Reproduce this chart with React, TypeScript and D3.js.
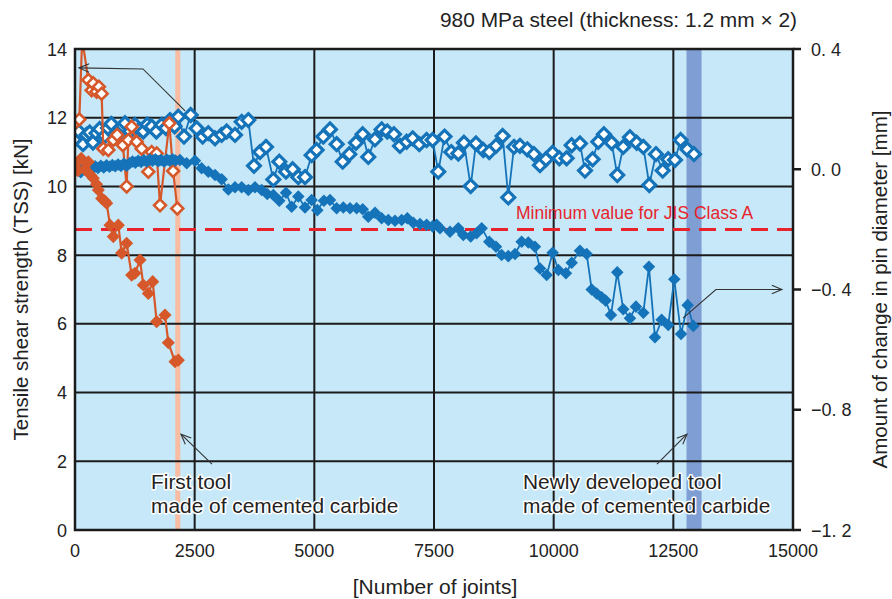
import React, { useEffect, useRef } from 'react';
import * as d3 from 'd3';

// TSS of new tool [joints, kN] (open blue diamonds, left axis)
const tssNewTool: [number, number][] = [
  [0, 11.38], [80, 11.6], [167, 11.23], [240, 11.5], [307, 11.57], [376, 11.28], [450, 11.55], [516, 11.67],
  [580, 11.4], [620, 11.47], [690, 11.7], [758, 11.82], [840, 11.5], [934, 11.57], [1000, 11.75], [1044, 11.84],
  [1150, 11.6], [1253, 11.79], [1340, 11.65], [1427, 11.6], [1510, 11.8], [1602, 11.74], [1700, 11.6], [1811, 11.79],
  [1900, 11.7], [1985, 11.93], [2080, 11.75], [2158, 12.03], [2277, 11.45], [2417, 12.08], [2542, 11.69], [2667, 11.45],
  [2785, 11.55], [2925, 11.4], [3064, 11.5], [3169, 11.6], [3343, 11.5], [3482, 11.88], [3621, 11.93], [3739, 10.6],
  [3864, 11.0], [3990, 11.15], [4143, 10.2], [4268, 10.72], [4408, 10.43], [4547, 10.5], [4665, 10.27], [4805, 10.27],
  [4944, 10.91], [5048, 11.06], [5187, 11.45], [5327, 11.66], [5466, 11.23], [5592, 10.72], [5731, 10.94], [5870, 11.27],
  [6010, 11.52], [6127, 10.86], [6267, 11.37], [6406, 11.66], [6524, 11.6], [6664, 11.52], [6789, 11.18], [6928, 11.3],
  [7054, 11.4], [7193, 11.23], [7346, 11.35], [7471, 11.35], [7589, 10.43], [7720, 11.45], [7860, 11.0], [8008, 10.96],
  [8126, 11.27], [8266, 10.01], [8377, 11.25], [8530, 11.06], [8655, 11.0], [8795, 11.18], [8934, 11.47], [9052, 9.68],
  [9171, 11.15], [9296, 11.18], [9449, 11.08], [9589, 10.94], [9714, 10.62], [9839, 10.79], [9979, 10.98], [10118, 10.82],
  [10271, 10.82], [10376, 11.2], [10549, 11.25], [10654, 10.46], [10814, 10.79], [10932, 11.3], [11050, 11.52], [11211, 11.27],
  [11329, 10.33], [11454, 11.15], [11594, 11.43], [11734, 11.27], [11873, 11.15], [11998, 10.04], [12137, 10.94], [12277, 10.46],
  [12394, 10.79], [12534, 10.77], [12653, 11.35], [12792, 11.08], [12931, 10.94],
];

// pin diameter change of new tool [joints, mm] (filled blue diamonds, right axis)
const pinNewTool: [number, number][] = [
  [0, -0.005], [60, 0.0], [120, -0.01], [180, 0.005], [240, -0.003], [300, 0.008], [360, 0.0], [420, 0.01],
  [480, 0.004], [540, 0.012], [600, 0.006], [660, 0.013], [720, 0.008], [780, 0.014], [840, 0.01], [900, 0.016],
  [960, 0.011], [1020, 0.018], [1080, 0.012], [1140, 0.02], [1200, 0.026], [1260, 0.022], [1320, 0.028], [1380, 0.024],
  [1440, 0.03], [1500, 0.026], [1560, 0.032], [1620, 0.028], [1680, 0.033], [1740, 0.027], [1800, 0.031], [1860, 0.026],
  [1920, 0.032], [1980, 0.028], [2040, 0.033], [2100, 0.029], [2193, 0.031], [2333, 0.02], [2507, 0.028], [2646, 0.003],
  [2785, -0.008], [2925, -0.019], [3064, -0.033], [3203, -0.067], [3343, -0.06], [3482, -0.06], [3621, -0.069], [3760, -0.06],
  [3899, -0.069], [4017, -0.082], [4143, -0.086], [4268, -0.105], [4408, -0.078], [4526, -0.125], [4665, -0.091], [4805, -0.127],
  [4944, -0.102], [5062, -0.136], [5201, -0.105], [5327, -0.102], [5466, -0.13], [5606, -0.127], [5745, -0.13], [5884, -0.13],
  [6010, -0.133], [6127, -0.158], [6267, -0.145], [6406, -0.163], [6545, -0.169], [6685, -0.171], [6824, -0.169], [6942, -0.163],
  [7067, -0.178], [7207, -0.182], [7346, -0.185], [7470, -0.19], [7555, -0.185], [7625, -0.196], [7834, -0.208], [8008, -0.196],
  [8112, -0.219], [8266, -0.224], [8391, -0.213], [8496, -0.196], [8655, -0.241], [8795, -0.258], [8913, -0.285], [9052, -0.289],
  [9192, -0.282], [9331, -0.241], [9470, -0.244], [9609, -0.258], [9714, -0.33], [9854, -0.352], [9979, -0.278], [10097, -0.335],
  [10257, -0.346], [10376, -0.311], [10549, -0.271], [10690, -0.282], [10794, -0.4], [10898, -0.413], [11002, -0.426], [11085, -0.437],
  [11197, -0.485], [11329, -0.343], [11454, -0.466], [11594, -0.496], [11719, -0.457], [11873, -0.477], [11990, -0.324], [12116, -0.559],
  [12256, -0.501], [12394, -0.518], [12520, -0.366], [12660, -0.548], [12799, -0.452], [12917, -0.521],
];

// TSS of first tool (open orange diamonds, left axis)
const tssFirstTool: [number, number][] = [
  [0, 11.85], [90, 11.95], [150, 14.3], [278, 13.1], [348, 12.8], [382, 13.0], [452, 12.76], [500, 12.9],
  [557, 12.7], [591, 11.1], [696, 11.06], [800, 11.35], [880, 11.5], [1000, 11.2], [1079, 10.0], [1114, 11.35],
  [1184, 11.74], [1288, 11.3], [1393, 11.1], [1532, 10.43], [1602, 11.0], [1706, 10.96], [1776, 9.45], [1970, 11.84],
  [2050, 10.45], [2137, 9.36],
];

// pin diameter change of first tool (filled orange diamonds, right axis)
const pinFirstTool: [number, number][] = [
  [0, 0.015], [60, -0.005], [130, 0.036], [200, 0.0], [278, 0.025], [330, -0.02], [382, -0.03], [450, -0.05],
  [487, -0.069], [557, -0.097], [620, -0.105], [662, -0.113], [731, -0.186], [800, -0.224], [905, -0.186], [975, -0.279],
  [1079, -0.246], [1184, -0.352], [1253, -0.346], [1358, -0.302], [1427, -0.385], [1532, -0.413], [1623, -0.374], [1706, -0.507],
  [1880, -0.485], [1950, -0.577], [2089, -0.64], [2159, -0.635],
];

const xTicks = [0, 2500, 5000, 7500, 10000, 12500, 15000];
const leftTicks = [0, 2, 4, 6, 8, 10, 12, 14];
const rightTicks = [0.4, 0.0, -0.4, -0.8, -1.2];
const rightTickLabels = ['0. 4', '0. 0', '\u22120. 4', '\u22120. 8', '\u22121. 2'];
const jisMinimum = 8.75;
const firstToolBand = [2095, 2200];
const newToolBand = [12775, 13090];

const BLUE = '#1573b9';
const ORANGE = '#d6582a';
const FONT = 'Liberation Sans, Arial, Helvetica, sans-serif';

const App = () => {
  const ref = useRef<SVGSVGElement>(null);

  useEffect(() => {
    const svg = d3.select(ref.current);
    svg.selectAll('*').remove();

    const x = d3.scaleLinear().domain([0, 15000]).range([75, 793]);
    const yL = d3.scaleLinear().domain([0, 14]).range([530, 49]);
    const yR = d3.scaleLinear().domain([-1.2, 0.4]).range([530, 49]);
    const [x0, x1] = x.range();
    const [yb, yt] = yL.range();

    svg.append('defs').append('clipPath').attr('id', 'plotclip')
      .append('rect').attr('x', x0).attr('y', yt).attr('width', x1 - x0).attr('height', yb - yt);

    svg.append('rect').attr('x', x0).attr('y', yt).attr('width', x1 - x0).attr('height', yb - yt)
      .attr('fill', '#c6e8f8');

    // tool bands
    svg.append('rect').attr('x', x(firstToolBand[0])).attr('y', yt)
      .attr('width', x(firstToolBand[1]) - x(firstToolBand[0])).attr('height', yb - yt)
      .attr('fill', '#f7bca2');
    svg.append('rect').attr('x', x(newToolBand[0])).attr('y', yt)
      .attr('width', x(newToolBand[1]) - x(newToolBand[0])).attr('height', yb - yt)
      .attr('fill', '#7f9ed3');

    // grid
    const grid = svg.append('g').attr('stroke', '#1b1b1b').attr('stroke-width', 2);
    leftTicks.filter(t => t > 0 && t < 14).forEach(t => {
      grid.append('line').attr('x1', x0).attr('x2', x1).attr('y1', yL(t)).attr('y2', yL(t));
    });
    xTicks.filter(t => t > 0 && t < 15000).forEach(t => {
      grid.append('line').attr('x1', x(t)).attr('x2', x(t)).attr('y1', yt).attr('y2', yb);
    });

    // JIS minimum
    svg.append('line').attr('x1', x0).attr('x2', x1).attr('y1', yL(jisMinimum)).attr('y2', yL(jisMinimum))
      .attr('stroke', '#e8232b').attr('stroke-width', 3).attr('stroke-dasharray', '17,9');
    svg.append('text').attr('x', 516).attr('y', yL(jisMinimum) - 10)
      .attr('font-family', FONT).attr('font-size', 17.5).attr('fill', '#e8232b')
      .text('Minimum value for JIS Class A');

    const plot = svg.append('g').attr('clip-path', 'url(#plotclip)');

    const drawSeries = (data: [number, number][], y: d3.ScaleLinear<number, number>, color: string,
      open: boolean, size: number, lw: number, sw: number) => {
      const line = d3.line<[number, number]>().x(d => x(d[0])).y(d => y(d[1]));
      plot.append('path').datum(data).attr('d', line).attr('fill', 'none')
        .attr('stroke', color).attr('stroke-width', lw);
      const sym = d3.symbol().type(d3.symbolDiamond2).size(size);
      plot.append('g').selectAll('path').data(data).enter().append('path')
        .attr('d', sym)
        .attr('transform', d => `translate(${x(d[0])},${y(d[1])})`)
        .attr('fill', open ? '#ffffff' : color)
        .attr('stroke', open ? color : 'none')
        .attr('stroke-width', open ? sw : 0);
    };

    drawSeries(tssNewTool, yL, BLUE, true, 105, 1.8, 3.2);
    drawSeries(tssFirstTool, yL, ORANGE, true, 90, 2.2, 2.6);
    drawSeries(pinNewTool, yR, BLUE, false, 100, 1.8, 0);
    drawSeries(pinFirstTool, yR, ORANGE, false, 110, 2.2, 0);

    // frame
    svg.append('rect').attr('x', x0).attr('y', yt).attr('width', x1 - x0).attr('height', yb - yt)
      .attr('fill', 'none').attr('stroke', '#1b1b1b').attr('stroke-width', 2.5);

    // left ticks
    svg.append('g').selectAll('text').data(leftTicks).enter().append('text')
      .attr('x', 67).attr('y', d => yL(d) + 6.5).attr('text-anchor', 'end')
      .attr('font-family', FONT).attr('font-size', 18).attr('fill', '#222')
      .text(d => d);

    // bottom ticks
    svg.append('g').selectAll('text').data(xTicks).enter().append('text')
      .attr('x', d => x(d)).attr('y', 557).attr('text-anchor', 'middle')
      .attr('font-family', FONT).attr('font-size', 18).attr('fill', '#222')
      .text(d => d);

    // right ticks
    const rt = svg.append('g');
    rightTicks.forEach((t, i) => {
      rt.append('line').attr('x1', x1).attr('x2', x1 + 8).attr('y1', yR(t)).attr('y2', yR(t))
        .attr('stroke', '#1b1b1b').attr('stroke-width', 2.5);
      rt.append('text').attr('x', 811).attr('y', yR(t) + 6.5)
        .attr('font-family', FONT).attr('font-size', 18).attr('fill', '#222')
        .text(rightTickLabels[i]);
    });

    // axis titles
    svg.append('text').attr('transform', `translate(28,${(yt + yb) / 2}) rotate(-90)`)
      .attr('text-anchor', 'middle').attr('font-family', FONT).attr('font-size', 20.5).attr('fill', '#222')
      .text('Tensile shear strength (TSS) [kN]');
    svg.append('text').attr('transform', `translate(887,${(yt + yb) / 2}) rotate(-90)`)
      .attr('text-anchor', 'middle').attr('font-family', FONT).attr('font-size', 20.5).attr('fill', '#222')
      .text('Amount of change in pin diameter [mm]');
    svg.append('text').attr('x', (x0 + x1) / 2 + 1).attr('y', 594).attr('text-anchor', 'middle')
      .attr('font-family', FONT).attr('font-size', 21).attr('fill', '#222')
      .text('[Number of joints]');
    svg.append('text').attr('x', 797).attr('y', 27).attr('text-anchor', 'end')
      .attr('font-family', FONT).attr('font-size', 20.9).attr('fill', '#222')
      .text('980 MPa steel (thickness: 1.2 mm \u00d7 2)');

    // annotation arrows
    const ann = svg.append('g').attr('stroke', '#333').attr('stroke-width', 1.1).attr('fill', 'none');
    const arrow = (pts: [number, number][]) => {
      ann.append('path').attr('d', d3.line()(pts));
      const [tx, ty] = pts[pts.length - 1];
      const [sx, sy] = pts[pts.length - 2];
      const ang = Math.atan2(ty - sy, tx - sx);
      const len = 11, spread = 0.4;
      const a1: [number, number] = [tx - len * Math.cos(ang - spread), ty - len * Math.sin(ang - spread)];
      const a2: [number, number] = [tx - len * Math.cos(ang + spread), ty - len * Math.sin(ang + spread)];
      ann.append('path').attr('d', d3.line()([a1, [tx, ty], a2]));
    };
    arrow([[x(2300), yL(12.2)], [x(1420), yL(13.42)], [x(84), yL(13.45)]]);
    arrow([[x(12701), yR(-0.495)], [x(13390), yR(-0.4)], [x(14769), yR(-0.4)]]);
    arrow([[x(2862), yL(1.92)], [x(2214), yL(2.79)]]);
    arrow([[x(12158), yL(1.92)], [x(12785), yL(2.79)]]);

    // tool labels with white halo
    const label = (tx: number, lines: string[]) => {
      const t = svg.append('text').attr('font-family', FONT).attr('font-size', 20.9).attr('fill', '#222')
        .attr('stroke', '#fff').attr('stroke-width', 3).attr('paint-order', 'stroke')
        .attr('stroke-linejoin', 'round');
      lines.forEach((s, i) => {
        t.append('tspan').attr('x', tx).attr('y', 489 + i * 24).text(s);
      });
    };
    label(151, ['First tool', 'made of cemented carbide']);
    label(523, ['Newly developed tool', 'made of cemented carbide']);
  }, []);

  return (
    <svg ref={ref} width={892} height={599}
      style={{ position: 'absolute', left: 0, top: 0, background: '#fff' }} />
  );
};

export default App;
